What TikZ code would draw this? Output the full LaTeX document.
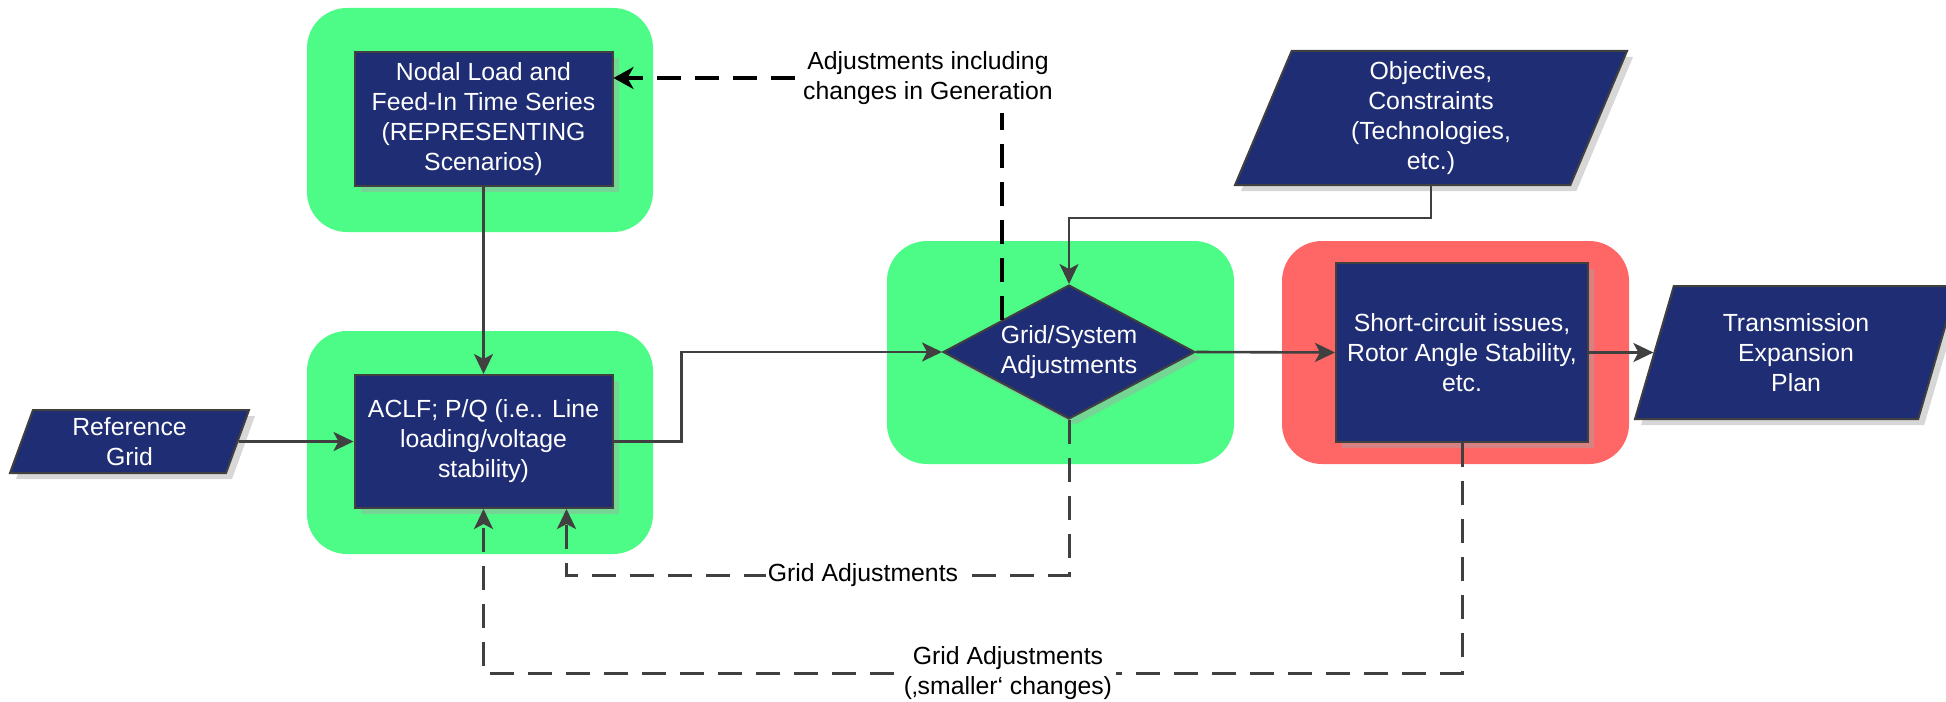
\documentclass[tikz,border=0pt]{standalone}
\usepackage{fontspec}
\setmainfont{Liberation Sans}
\usetikzlibrary{arrows.meta,shapes.geometric,shadows,calc}
\definecolor{boxnavy}{RGB}{31,45,116}
\definecolor{edgegray}{RGB}{64,64,64}
\definecolor{zonegreen}{RGB}{76,252,134}
\definecolor{zonered}{RGB}{255,102,102}

\begin{document}
\begin{tikzpicture}[x=0.5pt,y=-0.5pt,
  every node/.style={font=\fontsize{12.4}{15}\selectfont, align=center},
  blk/.style={draw=edgegray, line width=1pt, fill=boxnavy, text=white, inner sep=0pt,
    drop shadow={fill=black!35, opacity=0.45, shadow xshift=3pt, shadow yshift=-3pt}},
  procbox/.style={blk, rectangle},
  iobox/.style={blk, trapezium, trapezium stretches body},
  decbox/.style={blk, diamond, aspect=1.88},
  flow/.style={draw=edgegray, line width=1.3pt, -{Stealth[length=10pt,width=9.5pt,inset=2.5pt]}},
  genline/.style={draw=black, line width=1.8pt, dash pattern=on 12pt off 7pt,
    -{Stealth[length=10pt,width=11pt,inset=3pt]}},
  fbline/.style={draw=edgegray, line width=1.5pt, dash pattern=on 12pt off 7pt,
    -{Stealth[length=10pt,width=9.5pt,inset=2.5pt]}},
  lbl/.style={fill=white, inner sep=2pt}]
  \useasboundingbox (0,0) rectangle (1946,701);
  % zones
  \fill[zonegreen, rounded corners=20pt] (307,8) rectangle (653,232);
  \fill[zonegreen, rounded corners=20pt] (307,331) rectangle (653,554);
  \fill[zonegreen, rounded corners=20pt] (887,241) rectangle (1234,464);
  \fill[zonered, rounded corners=20pt] (1282,241) rectangle (1629,464);
  % blocks
  \node[procbox, minimum width=129pt, minimum height=67pt] (nodal) at (483.5,119)
    {Nodal Load and\\Feed-In Time Series\\(REPRESENTING\\Scenarios)};
  \node[procbox, minimum width=129pt, minimum height=66.5pt] (aclf) at (483.5,441.5)
    {ACLF; P/Q (i.e.. Line\\loading/voltage\\stability)};
  \node[iobox, trapezium left angle=64.5, trapezium right angle=115.5,
    minimum width=119.5pt, minimum height=31.5pt] (ref) at (129.5,441.5) {Reference\\Grid};
  \node[iobox, trapezium left angle=63.4, trapezium right angle=116.6,
    minimum width=196pt, minimum height=67pt] (obj) at (1431,118)
    {Objectives,\\Constraints\\(Technologies,\\etc.)};
  \node[decbox, minimum width=126pt, minimum height=67pt] (diam) at (1069,352)
    {Grid/System\\Adjustments};
  \node[procbox, minimum width=126pt, minimum height=89.5pt] (sc) at (1462,352.5)
    {Short-circuit issues,\\Rotor Angle Stability,\\etc.};
  \node[iobox, trapezium left angle=63.6, trapezium right angle=116.4,
    minimum width=161pt, minimum height=66.5pt] (trans) at (1796,352.5)
    {Transmission\\Expansion\\Plan};
  \node[fill=white, inner sep=4pt] (genlbl) at (928,78) {Adjustments including\\changes in Generation};
  \coordinate (gentap) at ($(diam.west)!0.47!(diam.north)$);
  % solid flow
  \draw[flow] (nodal.south) -- (aclf.north);
  \draw[flow] (ref.east) -- (aclf.west);
  \draw[flow] (aclf.east) -- ++(68,0) |- (diam.west);
  \draw[flow, line width=1pt] (obj.south) |- ($(diam.north)+(0,-66)$) -- (diam.north);
  \draw[flow] (diam.east) -- (sc.west);
  \draw[flow] (sc.east) -- (trans.west);
  % feedback
  \draw[genline, -] (gentap) -- (gentap |- genlbl.south);
  \draw[genline] (genlbl.west) -- (genlbl.west -| nodal.east);
  \draw[fbline] (diam.south) -- ++(0,155) -| node[lbl, inner sep=1pt, pos=0.205] {Grid Adjustments}
    ($(aclf.south east)+(-47,0)$);
  \draw[fbline] (sc.south) -- ++(0,230) -| node[lbl, pos=0.232] {Grid Adjustments\\(‚smaller‘ changes)}
    (aclf.south);
\end{tikzpicture}
\end{document}
